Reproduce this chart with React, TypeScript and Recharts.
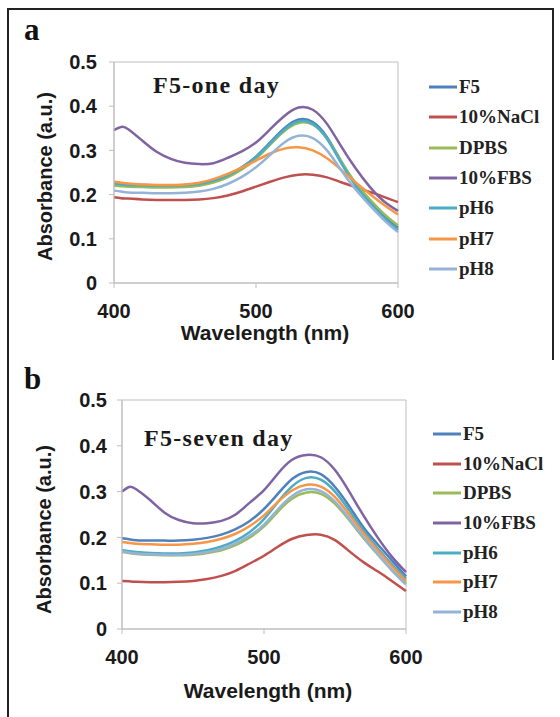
import React from "react";
import { LineChart, Line, XAxis, YAxis, Legend, ReferenceArea } from "recharts";

const wavelengths = [400, 405, 410, 420, 430, 440, 450, 460, 470, 480, 490, 500, 510, 520, 530, 540, 550, 560, 570, 580, 590, 600];

const seriesKeys = ["F5", "NaCl", "DPBS", "FBS", "pH6", "pH7", "pH8"];
const seriesNames = ["F5", "10%NaCl", "DPBS", "10%FBS", "pH6", "pH7", "pH8"];
const seriesColors = ["#4F81BD", "#C0504D", "#9BBB59", "#8064A2", "#4BACC6", "#F79646", "#95B3D7"];

const xTicks = [400, 500, 600];
const yTicks = [0, 0.1, 0.2, 0.3, 0.4, 0.5];

// a: one day
const oneF5 = [0.226, 0.224, 0.223, 0.222, 0.221, 0.221, 0.222, 0.225, 0.232, 0.244, 0.262, 0.286, 0.318, 0.35, 0.37, 0.364, 0.33, 0.275, 0.225, 0.186, 0.152, 0.125];
const oneNaCl = [0.194, 0.192, 0.191, 0.189, 0.188, 0.188, 0.188, 0.189, 0.192, 0.198, 0.207, 0.218, 0.229, 0.239, 0.245, 0.245, 0.239, 0.228, 0.217, 0.206, 0.195, 0.183];
const oneDPBS = [0.22, 0.219, 0.218, 0.217, 0.216, 0.216, 0.217, 0.22, 0.227, 0.239, 0.257, 0.281, 0.313, 0.344, 0.362, 0.358, 0.327, 0.275, 0.227, 0.19, 0.157, 0.13];
const oneFBS = [0.346, 0.353, 0.348, 0.322, 0.297, 0.281, 0.272, 0.269, 0.271, 0.283, 0.298, 0.318, 0.348, 0.378, 0.397, 0.392, 0.36, 0.309, 0.26, 0.218, 0.185, 0.163];
const onePH6 = [0.225, 0.223, 0.222, 0.221, 0.22, 0.22, 0.221, 0.224, 0.231, 0.243, 0.261, 0.285, 0.316, 0.347, 0.366, 0.36, 0.326, 0.271, 0.221, 0.182, 0.148, 0.12];
const onePH7 = [0.229, 0.227, 0.225, 0.223, 0.222, 0.222, 0.223, 0.227, 0.235, 0.247, 0.261, 0.277, 0.293, 0.304, 0.307, 0.3, 0.282, 0.256, 0.228, 0.202, 0.177, 0.155];
const onePH8 = [0.209, 0.207, 0.205, 0.204, 0.203, 0.203, 0.204, 0.207, 0.213, 0.224, 0.24, 0.262, 0.29, 0.318, 0.333, 0.328, 0.3, 0.255, 0.212, 0.176, 0.143, 0.115];

// b: seven day
const sevenF5 = [0.198, 0.196, 0.194, 0.193, 0.193, 0.193, 0.195, 0.199, 0.206, 0.218, 0.236, 0.262, 0.296, 0.328, 0.343, 0.338, 0.31, 0.268, 0.222, 0.185, 0.15, 0.115];
const sevenNaCl = [0.105, 0.104, 0.103, 0.102, 0.102, 0.103, 0.105, 0.109, 0.116, 0.127, 0.143, 0.16, 0.18, 0.197, 0.205, 0.206, 0.194, 0.17, 0.146, 0.126, 0.105, 0.083];
const sevenDPBS = [0.168, 0.166, 0.164, 0.162, 0.161, 0.161, 0.162, 0.166, 0.172, 0.183, 0.2, 0.224, 0.257, 0.285, 0.298, 0.295, 0.273, 0.238, 0.199, 0.163, 0.129, 0.1];
const sevenFBS = [0.3, 0.31, 0.305, 0.281, 0.254, 0.238, 0.231, 0.231, 0.236, 0.25, 0.276, 0.303, 0.34, 0.37, 0.38, 0.375, 0.347, 0.3, 0.248, 0.2, 0.158, 0.124];
const sevenPH6 = [0.172, 0.17, 0.168, 0.166, 0.165, 0.165, 0.167, 0.172, 0.18, 0.193, 0.212, 0.24, 0.278, 0.312, 0.33, 0.326, 0.3, 0.259, 0.215, 0.176, 0.141, 0.11];
const sevenPH7 = [0.19, 0.188, 0.186, 0.185, 0.184, 0.184, 0.186, 0.19, 0.197, 0.208, 0.225, 0.248, 0.278, 0.303, 0.315, 0.311, 0.288, 0.25, 0.209, 0.172, 0.137, 0.105];
const sevenPH8 = [0.169, 0.167, 0.165, 0.163, 0.162, 0.162, 0.164, 0.168, 0.175, 0.187, 0.204, 0.228, 0.262, 0.291, 0.305, 0.301, 0.278, 0.241, 0.201, 0.164, 0.128, 0.097];

const buildRows = (cols: number[][]) =>
  wavelengths.map((w, i) => {
    const row: any = { w };
    seriesKeys.forEach((k, j) => (row[k] = cols[j][i]));
    return row;
  });

const rowsOne = buildRows([oneF5, oneNaCl, oneDPBS, oneFBS, onePH6, onePH7, onePH8]);
const rowsSeven = buildRows([sevenF5, sevenNaCl, sevenDPBS, sevenFBS, sevenPH6, sevenPH7, sevenPH8]);

const SANS = "'Liberation Sans', Arial, sans-serif";
const SERIF = "'Liberation Serif', 'Times New Roman', serif";
const AXIS_GRAY = "#bfbfbf";

function XTitle({ viewBox, baseline, shift }: any) {
  const vb = viewBox || { x: 0, y: 0, width: 0 };
  return (
    <text x={vb.x + vb.width / 2 + shift} y={vb.y + baseline} textAnchor="middle" fontFamily={SANS} fontWeight="bold" fontSize={21} fill="#1a1a1a">
      Wavelength (nm)
    </text>
  );
}

function YTitle({ viewBox, cx, shift }: any) {
  const vb = viewBox || { x: 0, y: 0, height: 0 };
  const x = vb.x + cx;
  const y = vb.y + vb.height / 2 + shift;
  return (
    <text x={x} y={y} transform={`rotate(-90 ${x} ${y})`} textAnchor="middle" dominantBaseline="central" fontFamily={SANS} fontWeight="bold" fontSize={20} fill="#1a1a1a">
      Absorbance (a.u.)
    </text>
  );
}

function LegendBox({ payload, gap }: any) {
  const items = [...(payload || [])].sort((a: any, b: any) => seriesNames.indexOf(a.value) - seriesNames.indexOf(b.value));
  return (
    <div style={{ fontFamily: SERIF, fontWeight: "bold", fontSize: 19, color: "#222" }}>
      {items.map((p: any) => (
        <div key={p.value} style={{ height: gap, display: "flex", alignItems: "center" }}>
          <svg width={28} height={6}>
            <line x1={0} y1={3} x2={28} y2={3} stroke={p.color} strokeWidth={3} />
          </svg>
          <span style={{ marginLeft: 2 }}>{p.value}</span>
        </div>
      ))}
    </div>
  );
}

function Panel({ rows, cfg }: any) {
  return (
    <div style={{ position: "absolute", left: 0, top: cfg.top, width: 560, height: cfg.height }}>
      <LineChart
        width={560}
        height={cfg.height}
        data={rows}
        margin={{ top: cfg.plotTop, right: 560 - cfg.plotRight, left: 0, bottom: 0 }}
      >
        <XAxis
          dataKey="w"
          type="number"
          domain={[400, 600]}
          ticks={xTicks}
          height={cfg.height - cfg.plotBottom}
          stroke={AXIS_GRAY}
          tickSize={5}
          tickMargin={16}
          tick={{ fill: "#1a1a1a", fontFamily: SANS, fontWeight: "bold", fontSize: 20 }}
          label={<XTitle baseline={cfg.xTitleBaseline} shift={cfg.xTitleShift} />}
        />
        <YAxis
          type="number"
          domain={[0, 0.5]}
          ticks={yTicks}
          width={cfg.plotLeft}
          stroke={AXIS_GRAY}
          tickSize={5}
          tickMargin={cfg.yTickMargin}
          tick={{ fill: "#1a1a1a", fontFamily: SANS, fontWeight: "bold", fontSize: 20 }}
          label={<YTitle cx={cfg.yTitleX} shift={cfg.yTitleShift} />}
        />
        <ReferenceArea x1={400} x2={600} y1={0} y2={0.5} fill="none" stroke={AXIS_GRAY} strokeWidth={1} />
        {seriesKeys.map((k, j) => (
          <Line
            key={k}
            dataKey={k}
            name={seriesNames[j]}
            type="natural"
            stroke={seriesColors[j]}
            strokeWidth={2.5}
            dot={false}
            isAnimationActive={false}
          />
        ))}
        <Legend
          layout="vertical"
          align="center"
          verticalAlign="middle"
          content={<LegendBox gap={cfg.legendGap} />}
          wrapperStyle={{ left: cfg.legendLeft, top: cfg.legendTop, width: "auto", height: "auto" }}
        />
      </LineChart>
      <div
        style={{
          position: "absolute",
          left: cfg.titleLeft,
          top: cfg.titleTop,
          fontFamily: SERIF,
          fontWeight: "bold",
          fontSize: 24,
          lineHeight: 1,
          letterSpacing: 1.3,
          color: "#1a1a1a",
          whiteSpace: "nowrap",
        }}
      >
        {cfg.title}
      </div>
      <div
        style={{
          position: "absolute",
          left: 24,
          top: cfg.letterTop,
          fontFamily: SERIF,
          fontWeight: "bold",
          fontSize: 31,
          lineHeight: 1,
          color: "#111",
        }}
      >
        {cfg.letter}
      </div>
    </div>
  );
}

const cfgOne = {
  top: 0,
  height: 350,
  plotLeft: 114,
  plotRight: 398,
  plotTop: 62,
  plotBottom: 283,
  yTickMargin: 12,
  xTitleBaseline: 57,
  xTitleShift: 9,
  yTitleX: 45,
  yTitleShift: 4,
  legendLeft: 429,
  legendTop: 72,
  legendGap: 30.3,
  title: "F5-one day",
  titleLeft: 153,
  titleTop: 73,
  letter: "a",
  letterTop: 14,
};

const cfgSeven = {
  top: 350,
  height: 367,
  plotLeft: 122,
  plotRight: 406,
  plotTop: 50,
  plotBottom: 279,
  yTickMargin: 10,
  xTitleBaseline: 69,
  xTitleShift: 4,
  yTitleX: 44,
  yTitleShift: 15,
  legendLeft: 433,
  legendTop: 69,
  legendGap: 29.7,
  title: "F5-seven day",
  titleLeft: 144,
  titleTop: 76,
  letter: "b",
  letterTop: 13,
};

export default function App() {
  return (
    <div style={{ position: "absolute", left: 0, top: 0, width: 560, height: 717, background: "#fff", overflow: "hidden" }}>
      <div style={{ position: "absolute", left: 7, top: 8, width: 546, height: 0, borderTop: "2px solid #222" }} />
      <div style={{ position: "absolute", left: 7, top: 8, width: 0, height: 709, borderLeft: "2px solid #222" }} />
      <div style={{ position: "absolute", left: 552, top: 8, width: 0, height: 352, borderLeft: "2px solid #222" }} />
      <Panel rows={rowsOne} cfg={cfgOne} />
      <Panel rows={rowsSeven} cfg={cfgSeven} />
    </div>
  );
}
